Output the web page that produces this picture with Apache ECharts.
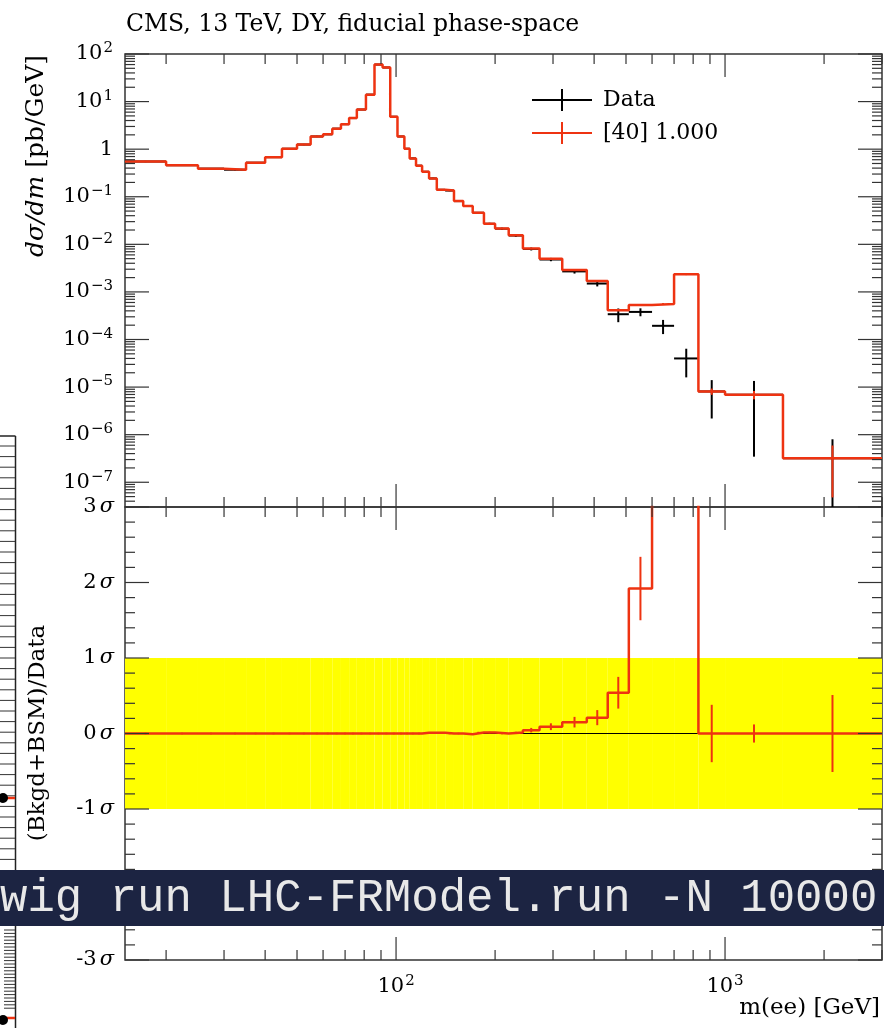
<!DOCTYPE html>
<html>
<head>
<meta charset="utf-8">
<title>CMS, 13 TeV, DY, fiducial phase-space</title>
<script src="https://cdn.jsdelivr.net/npm/echarts@6/dist/echarts.min.js"></script>
<style>
html, body { margin: 0; padding: 0; background: #fff; }
#main { width: 884px; height: 1028px; }
</style>
</head>
<body>
<div id="main"></div>
<script>
// bin edges, m(ee) [GeV]
var binEdges = [15, 20, 25, 30, 35, 40, 45, 50, 55, 60, 64, 68, 72, 76, 81, 86, 91, 96, 101, 106,
    110, 115, 120, 126, 133, 141, 150, 160, 171, 185, 200, 220, 243, 273, 320, 380, 440, 510, 600, 700,
    830, 1000, 1500, 3000];

// [40] 1.000 prediction, dsigma/dm [pb/GeV]
var mcValues = [0.55, 0.46, 0.39, 0.37, 0.52, 0.68, 1.02, 1.25, 1.85, 2.05,
    2.7, 3.35, 4.5, 6.8, 14.0, 60, 52, 4.8, 1.85, 1.02,
    0.64, 0.45, 0.335, 0.243, 0.14, 0.135, 0.081, 0.064, 0.046, 0.027,
    0.0214, 0.0155, 0.0082, 0.0050, 0.0029, 0.0017, 0.00041, 0.00053, 0.00056, 0.00235,
    8.1e-6, 6.9e-6, 3.2e-7];
var mcRelErr = [0.01, 0.01, 0.01, 0.01, 0.01, 0.01, 0.01, 0.01, 0.01, 0.01,
    0.01, 0.01, 0.01, 0.01, 0.01, 0.01, 0.01, 0.01, 0.01, 0.01,
    0.01, 0.01, 0.01, 0.01, 0.01, 0.01, 0.01, 0.01, 0.01, 0.01,
    0.01, 0.01, 0.01, 0.01, 0.02, 0.02, 0.03, 0.03, 0.04, 0.04,
    0.15, 0.2, 0.85];

// CMS data
var dataValues = [0.55, 0.46, 0.39, 0.37, 0.52, 0.68, 1.02, 1.25, 1.85, 2.05,
    2.7, 3.35, 4.5, 6.8, 14.0, 60, 52, 4.8, 1.85, 1.02,
    0.64, 0.45, 0.335, 0.243, 0.14, 0.135, 0.081, 0.064, 0.046, 0.027,
    0.0213, 0.0153, 0.0080, 0.0048, 0.0027, 0.0015, 0.00034, 0.00038, 0.000194, 0.00004,
    8.1e-6, 6.9e-6, 3.2e-7];
var dataRelErr = [0.03, 0.03, 0.03, 0.03, 0.03, 0.03, 0.03, 0.03, 0.03, 0.03,
    0.03, 0.03, 0.03, 0.02, 0.02, 0.02, 0.02, 0.02, 0.02, 0.03,
    0.03, 0.03, 0.03, 0.03, 0.03, 0.03, 0.04, 0.04, 0.04, 0.05,
    0.05, 0.06, 0.07, 0.08, 0.1, 0.13, 0.32, 0.19, 0.33, 0.6,
    0.73, 0.95, 1.5];

// (Bkgd+BSM)/Data deviation in sigma
var ratioValues = [0, 0, 0, 0, 0, 0, 0, 0, 0, 0,
    0, 0, 0, 0, 0, 0, 0, 0, 0, 0,
    0, 0, 0.01, 0.01, 0.01, 0, 0, -0.01, 0.013, 0.013,
    0, 0.013, 0.044, 0.09, 0.15, 0.21, 0.54, 1.92, 6.1, 100,
    0, 0, 0];
var ratioErr = [0.01, 0.01, 0.01, 0.01, 0.01, 0.01, 0.01, 0.01, 0.01, 0.01,
    0.01, 0.01, 0.01, 0.01, 0.01, 0.01, 0.01, 0.01, 0.01, 0.01,
    0.01, 0.01, 0.01, 0.01, 0.01, 0.01, 0.01, 0.01, 0.01, 0.01,
    0.01, 0.01, 0.03, 0.045, 0.07, 0.1, 0.21, 0.42, 0.5, 1,
    0.38, 0.12, 0.51];

// axis ranges and ticks
var xMin = 15, xMax = 3000;
var yTopMax = 100, yTopMin = 3.02e-8;
var sigmaTicks = [-3, -2, -1, 0, 1, 2, 3];
var xMajorTicks = [100, 1000];
var xMinorTicks = [20, 30, 40, 50, 60, 70, 80, 90, 200, 300, 400, 500, 600, 700, 800, 900, 2000, 3000];

var red = '#EE3311';
var serif = '"DejaVu Serif", "Liberation Serif", serif';
var crossIcon = 'path://M0,10h60v2h-60z M29,0h2v22h-2z';

var yMajorTop = [], yMinorTop = [];
for (var e = -8; e <= 1; e++) {
    for (var k = 1; k <= 9; k++) {
        var t = k * Math.pow(10, e);
        if (t < yTopMin || t > yTopMax) continue;
        if (k === 1) yMajorTop.push(t); else yMinorTop.push(t);
    }
}
yMajorTop.push(100);
var sigmaMinor = [];
for (var s = -3; s < 3; s++) {
    for (var m = 1; m < 5; m++) sigmaMinor.push(s + m * 0.2);
}

// build series data
var mcStep = [], ratioStep = [], dataCross = [], mcBars = [], ratioBars = [], band = [];
for (var i = 0; i < mcValues.length; i++) {
    var lo = binEdges[i], hi = binEdges[i + 1];
    mcStep.push([lo, mcValues[i]], [hi, mcValues[i]]);
    ratioStep.push([lo, ratioValues[i]], [hi, ratioValues[i]]);
    var dv = dataValues[i], de = dataRelErr[i];
    dataCross.push([lo, hi, dv, Math.max(dv * (1 - de), yTopMin / 10), dv * (1 + de)]);
    var mv = mcValues[i], me = mcRelErr[i];
    mcBars.push([lo, hi, mv, mv * (1 - me), mv * (1 + me)]);
    ratioBars.push([lo, hi, ratioValues[i], ratioValues[i] - ratioErr[i], ratioValues[i] + ratioErr[i]]);
    band.push([lo, hi, -1, 1]);
}

function renderCross(drawHoriz) {
    return function (params, api) {
        var lo = api.value(0), hi = api.value(1), v = api.value(2);
        var mid = Math.sqrt(lo * hi);
        var c = api.coord([mid, api.value(3)]), d = api.coord([mid, api.value(4)]);
        var style = { stroke: api.visual('color'), lineWidth: 2 };
        var children = [{ type: 'line', shape: { x1: c[0], y1: c[1], x2: d[0], y2: d[1] }, style: style }];
        if (drawHoriz) {
            var a = api.coord([lo, v]), b = api.coord([hi, v]);
            children.push({ type: 'line', shape: { x1: a[0], y1: a[1], x2: b[0], y2: b[1] }, style: style });
        }
        return { type: 'group', children: children };
    };
}

function renderBand(params, api) {
    var a = api.coord([api.value(0), api.value(3)]);
    var b = api.coord([api.value(1), api.value(2)]);
    return { type: 'rect', shape: { x: a[0], y: a[1], width: b[0] - a[0], height: b[1] - a[1] },
        style: { fill: '#ffff00' } };
}

// tick marks for both frames, through the axes' own scales
function tickRenderer(yLo, yHi, yMajor, yMinor) {
    return function (params, api) {
        var kids = [];
        var st = { stroke: '#333', lineWidth: 1.2 };
        function seg(x1, y1, x2, y2) {
            kids.push({ type: 'line', shape: { x1: x1, y1: y1, x2: x2, y2: y2 }, style: st });
        }
        xMajorTicks.concat(xMinorTicks).forEach(function (t) {
            var len = xMajorTicks.indexOf(t) >= 0 ? 23 : 10;
            var top = api.coord([t, yHi]), bot = api.coord([t, yLo]);
            seg(top[0], top[1], top[0], top[1] + len);
            seg(bot[0], bot[1], bot[0], bot[1] - len);
        });
        yMajor.concat(yMinor).forEach(function (t) {
            var len = yMajor.indexOf(t) >= 0 ? 24 : 10;
            var l = api.coord([xMin, t]), r = api.coord([xMax, t]);
            seg(l[0], l[1], l[0] + len, l[1]);
            seg(r[0], r[1], r[0] - len, r[1]);
        });
        return { type: 'group', children: kids };
    };
}

function powLabel(v) {
    var p = Math.round(Math.log10(v));
    if (p === 0) return '{b|1}';
    return '{b|10}{s|' + (p < 0 ? '\u2212' + (-p) : p) + '}';
}
var labelRich = {
    b: { fontFamily: serif, fontSize: 21, color: '#000', lineHeight: 26 },
    s: { fontFamily: serif, fontSize: 15, color: '#000', verticalAlign: 'top', lineHeight: 26, padding: [0, 0, 0, 1] },
    i: { fontFamily: serif, fontSize: 21, fontStyle: 'italic', color: '#000', lineHeight: 26, padding: [0, 0, 0, 3] }
};

var chart = echarts.init(document.getElementById('main'), null, { renderer: 'canvas' });

var option = {
    animation: false,
    backgroundColor: '#fff',
    title: {
        text: 'CMS, 13 TeV, DY, fiducial phase-space',
        left: 121, top: 8,
        textStyle: { fontFamily: serif, fontSize: 23.5, fontWeight: 'normal', color: '#000' }
    },
    legend: {
        left: 527, top: 84, orient: 'vertical',
        itemWidth: 60, itemHeight: 22, itemGap: 11,
        selectedMode: false,
        textStyle: { fontFamily: serif, fontSize: 22, color: '#000', padding: [0, 0, 0, 6] },
        data: [
            { name: 'Data', icon: crossIcon, itemStyle: { color: '#000' } },
            { name: '[40] 1.000', icon: crossIcon, itemStyle: { color: red } }
        ]
    },
    grid: [
        { left: 125, right: 2, top: 54, height: 453, show: true, borderColor: '#333', borderWidth: 1.5, backgroundColor: 'transparent' },
        { left: 125, right: 2, top: 507, height: 453, show: true, borderColor: '#333', borderWidth: 1.5, backgroundColor: 'transparent' }
    ],
    xAxis: [
        { type: 'log', gridIndex: 0, min: xMin, max: xMax, logBase: 10,
          axisLine: { show: false }, axisTick: { show: false }, splitLine: { show: false }, axisLabel: { show: false } },
        { type: 'log', gridIndex: 1, min: xMin, max: xMax, logBase: 10,
          axisLine: { show: false }, axisTick: { show: false }, splitLine: { show: false },
          axisLabel: { show: true, margin: 14, showMinLabel: false, showMaxLabel: false,
              formatter: powLabel, rich: labelRich } }
    ],
    yAxis: [
        { type: 'log', gridIndex: 0, min: yTopMin, max: yTopMax, logBase: 10,
          axisLine: { show: false }, axisTick: { show: false }, splitLine: { show: false },
          axisLabel: { margin: 12, showMinLabel: false, formatter: powLabel, rich: labelRich } },
        { type: 'value', gridIndex: 1, min: -3, max: 3, interval: 1,
          axisLine: { show: false }, axisTick: { show: false }, splitLine: { show: false },
          axisLabel: { margin: 11, formatter: function (v) {
              return '{b|' + (v < 0 ? '-' : '') + Math.abs(v) + '}{i|\u03c3}';
          }, rich: labelRich } }
    ],
    graphic: [
        { type: 'text', x: 36, y: 55, rotation: Math.PI / 2, z: 50,
          style: { text: '{i|d\u03c3/dm} [pb/GeV]', align: 'right', verticalAlign: 'middle',
              font: '25px ' + serif, fill: '#000',
              rich: { i: { fontFamily: serif, fontSize: 25, fontStyle: 'italic', fill: '#000' } } } },
        { type: 'text', x: 38, y: 733, rotation: Math.PI / 2, z: 50,
          style: { text: '(Bkgd+BSM)/Data', align: 'center', verticalAlign: 'middle',
              font: '23px ' + serif, fill: '#000' } },
        { type: 'text', right: 4, top: 997, z: 50,
          style: { text: 'm(ee) [GeV]', font: '23px ' + serif, fill: '#000' } },
        { type: 'group', z: 50, children: (function () {
            var g = [{ type: 'line', shape: { x1: 15.5, y1: 436, x2: 15.5, y2: 1028 }, style: { stroke: '#222', lineWidth: 1.5 } },
                     { type: 'line', shape: { x1: 0, y1: 436, x2: 15.5, y2: 436 }, style: { stroke: '#222', lineWidth: 1.5 } }];
            for (var yy = 446; yy < 868; yy += 10.6) {
                g.push({ type: 'line', shape: { x1: 0, y1: yy, x2: 15, y2: yy }, style: { stroke: '#333', lineWidth: 1 } });
            }
            for (var y2 = 930; y2 < 1010; y2 += 3.4) {
                g.push({ type: 'line', shape: { x1: 4, y1: y2, x2: 15, y2: y2 }, style: { stroke: '#333', lineWidth: 1 } });
            }
            g.push({ type: 'line', shape: { x1: 3, y1: 798, x2: 15, y2: 798 }, style: { stroke: red, lineWidth: 2.5 } });
            g.push({ type: 'circle', shape: { cx: 3, cy: 798, r: 5 }, style: { fill: '#000' } });
            g.push({ type: 'line', shape: { x1: 3, y1: 1018, x2: 15, y2: 1018 }, style: { stroke: red, lineWidth: 2.5 } });
            g.push({ type: 'circle', shape: { cx: 3, cy: 1020, r: 5 }, style: { fill: '#000' } });
            return g;
        })() },
        { type: 'rect', z: 60, shape: { x: 0, y: 870, width: 884, height: 56 }, style: { fill: '#1c2442' } },
        { type: 'text', z: 61, x: 0, y: 899,
          style: { text: 'wig run LHC-FRModel.run -N 10000', font: '45.7px "Liberation Mono", "DejaVu Sans Mono", monospace',
              fill: '#e8e8e8', verticalAlign: 'middle', align: 'left' } }
    ],
    series: [
        { name: 'band', type: 'custom', xAxisIndex: 1, yAxisIndex: 1, renderItem: renderBand,
          encode: { x: [0, 1], y: [2, 3] }, data: band, silent: true, z: 1, clip: true },
        { name: 'zero', type: 'line', xAxisIndex: 1, yAxisIndex: 1, showSymbol: false, silent: true, z: 2,
          lineStyle: { color: '#000', width: 1 }, data: [[binEdges[0], 0], [binEdges[binEdges.length - 1], 0]] },
        { name: 'Data', type: 'custom', xAxisIndex: 0, yAxisIndex: 0, renderItem: renderCross(true),
          itemStyle: { color: '#000' }, encode: { x: [0, 1], y: [2, 3, 4] }, data: dataCross, z: 3, clip: true },
        { name: '[40] 1.000', type: 'line', xAxisIndex: 0, yAxisIndex: 0, showSymbol: false, z: 4,
          lineStyle: { color: red, width: 2.5 }, itemStyle: { color: red }, data: mcStep },
        { name: '[40] 1.000', type: 'custom', xAxisIndex: 0, yAxisIndex: 0, renderItem: renderCross(false),
          itemStyle: { color: red }, encode: { x: [0, 1], y: [2, 3, 4] }, data: mcBars, z: 4, clip: true },
        { name: 'ratio', type: 'line', xAxisIndex: 1, yAxisIndex: 1, showSymbol: false, z: 4,
          lineStyle: { color: red, width: 2.5 }, data: ratioStep },
        { name: 'ratioErr', type: 'custom', xAxisIndex: 1, yAxisIndex: 1, renderItem: renderCross(false),
          itemStyle: { color: red }, encode: { x: [0, 1], y: [2, 3, 4] }, data: ratioBars, z: 4, clip: true },
        { name: 'ticksTop', type: 'custom', xAxisIndex: 0, yAxisIndex: 0, silent: true, z: 10,
          renderItem: tickRenderer(yTopMin, yTopMax, yMajorTop, yMinorTop), data: [[100, 1]] },
        { name: 'ticksBottom', type: 'custom', xAxisIndex: 1, yAxisIndex: 1, silent: true, z: 10,
          renderItem: tickRenderer(-3, 3, sigmaTicks, sigmaMinor), data: [[100, 0]] }
    ]
};

chart.setOption(option);

window.onresize = function () {
    chart.resize();
};
</script>
</body>
</html>
